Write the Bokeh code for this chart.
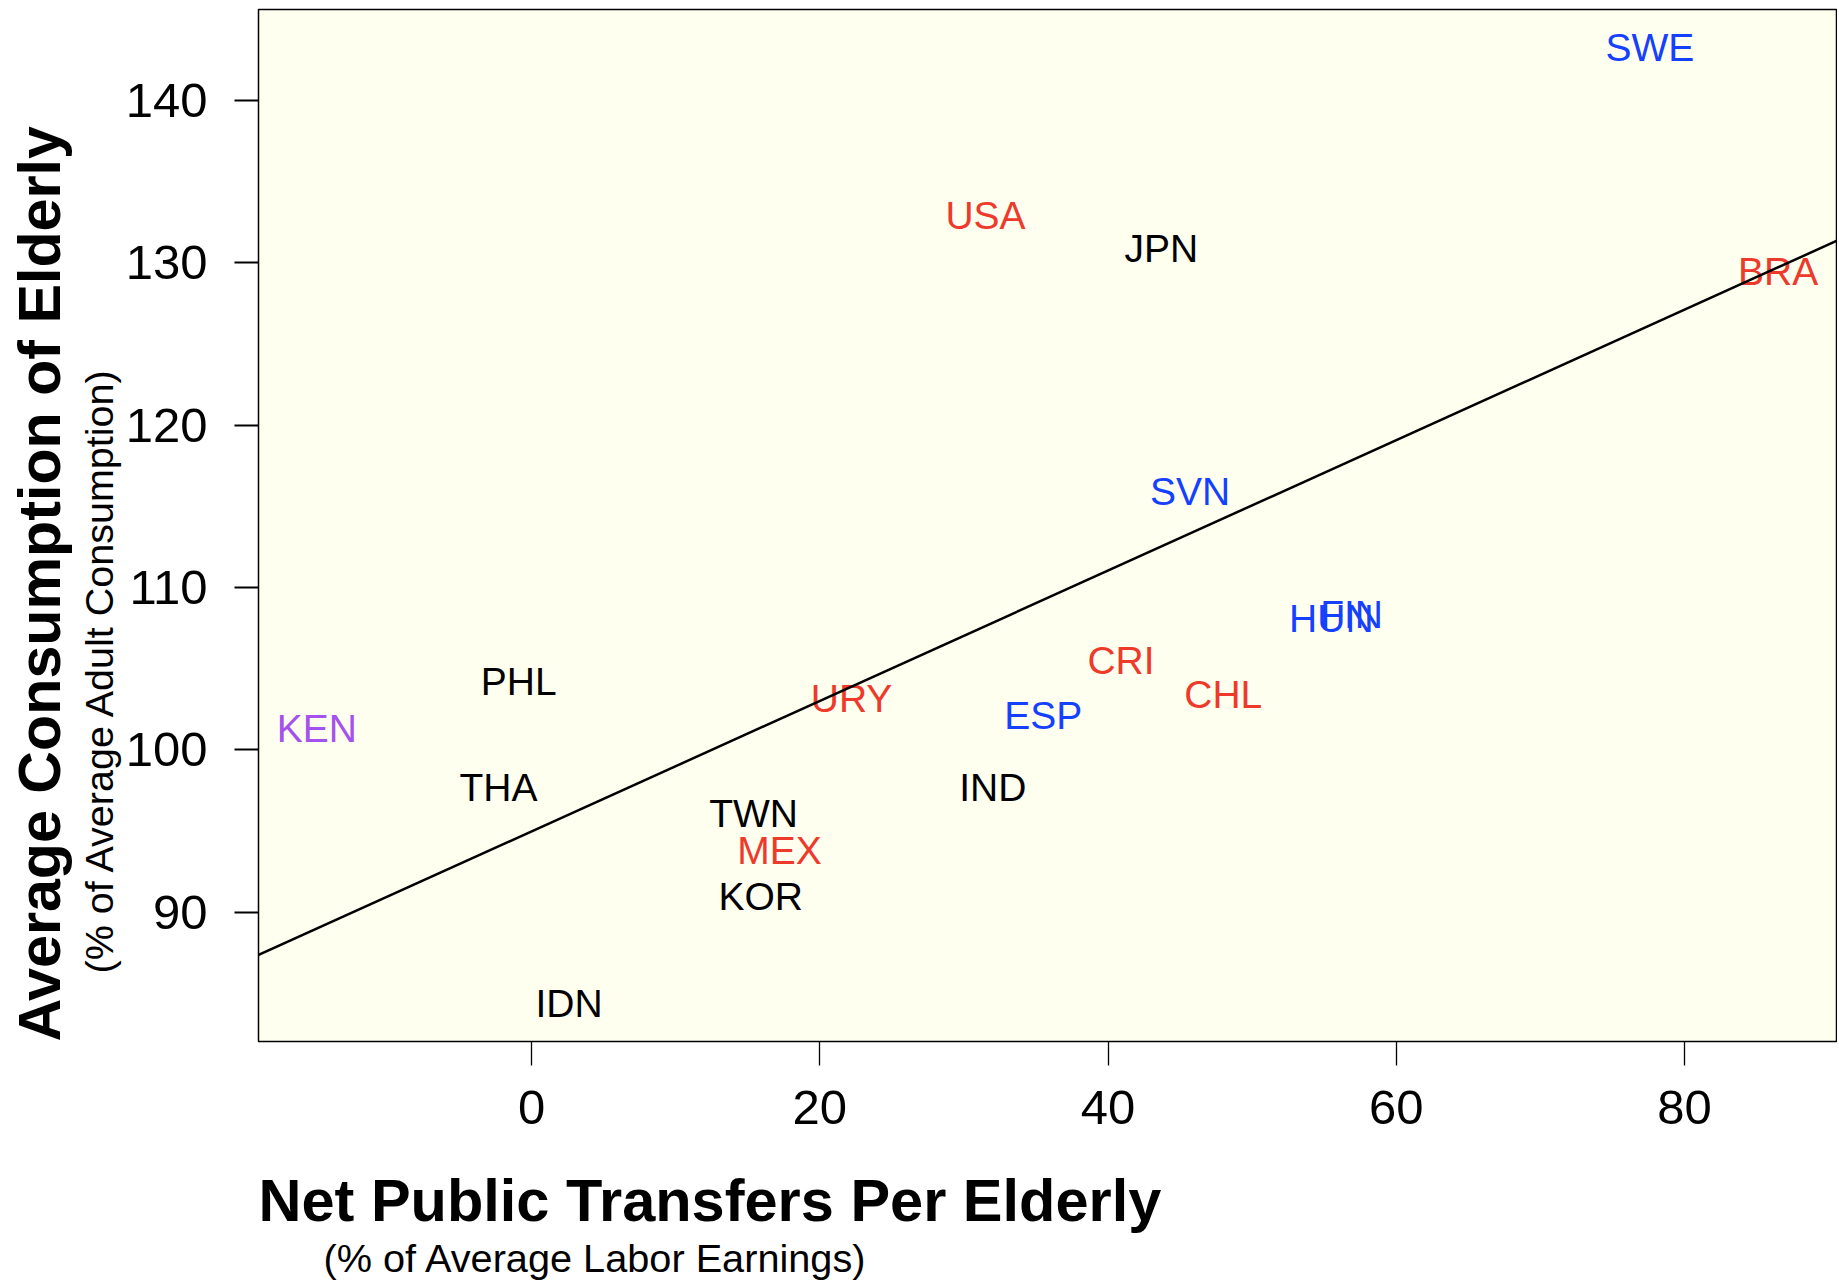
import numpy as np
from bokeh.plotting import figure
from bokeh.models import ColumnDataSource, Range1d, Slope, Title, FixedTicker
from bokeh.core.properties import value
from bokeh.embed import file_html
from bokeh.resources import INLINE

# ---- data ----
countries = ["SWE", "USA", "JPN", "BRA", "SVN", "HUN", "FIN", "CRI", "CHL", "ESP",
             "URY", "PHL", "KEN", "THA", "IND", "TWN", "MEX", "KOR", "IDN"]
transfers = [77.6, 31.5, 43.7, 86.5, 45.7, 55.5, 56.9, 40.9, 48.0, 35.5,
             22.2, -0.9, -14.9, -2.3, 32.0, 15.4, 17.2, 15.9, 2.6]
consumption = [143.25, 132.9, 130.9, 129.45, 115.9, 108.1, 108.35, 105.5, 103.4, 102.1,
               103.2, 104.2, 101.35, 97.7, 97.7, 96.1, 93.8, 91.0, 84.4]
groups = ["blue", "red", "black", "red", "blue", "blue", "blue", "red", "red", "blue",
          "red", "black", "purple", "black", "black", "black", "red", "black", "black"]
group_colors = {"black": "#000000", "red": "#EE3A2A", "blue": "#1540FF", "purple": "#A451EE"}
x_ticks = [0, 20, 40, 60, 80]
y_ticks = [90, 100, 110, 120, 130, 140]

x_title = "Net Public Transfers Per Elderly"
x_sub = "(% of Average Labor Earnings)"
y_title = "Average Consumption of Elderly"
y_sub = "(% of Average Adult Consumption)"

FONT = "Liberation Sans"

# ---- ranges like R defaults (4% padding) ----
xa, xb = min(transfers), max(transfers)
ya, yb = min(consumption), max(consumption)
xpad = 0.04 * (xb - xa)
ypad = 0.04 * (yb - ya)

p = figure(width=1837, height=1282, output_backend="svg", toolbar_location=None,
           x_range=Range1d(xa - xpad, xb + xpad), y_range=Range1d(ya - ypad, yb + ypad),
           min_border_left=258, min_border_right=1, min_border_top=9, min_border_bottom=241,
           background_fill_color="#FFFFF0", border_fill_color="white")
p.grid.visible = False
p.outline_line_color = "black"
p.outline_line_width = 1.5

# regression line (OLS fit of the points)
m, b = np.polyfit(np.array(transfers), np.array(consumption), 1)
p.add_layout(Slope(gradient=m, y_intercept=b, line_color="black", line_width=2.5))

src = ColumnDataSource(dict(x=transfers, y=consumption, name=countries,
                            color=[group_colors[g] for g in groups]))
p.text(x="x", y="y", text="name", source=src, text_color="color",
       text_font=value(FONT), text_font_size="39px",
       text_align="center", text_baseline="middle")

for ax, ticks, standoff in ((p.xaxis[0], x_ticks, 25), (p.yaxis[0], y_ticks, 27)):
    ax.ticker = FixedTicker(ticks=ticks)
    ax.axis_line_color = None
    ax.major_tick_out = 24
    ax.major_tick_in = 0
    ax.minor_tick_out = 0
    ax.minor_tick_in = 0
    ax.major_tick_line_color = "black"
    ax.major_label_standoff = standoff
    ax.major_label_text_font = FONT
    ax.major_label_text_font_size = "49px"
    ax.major_label_text_color = "black"
p.yaxis.major_tick_line_width = 2
p.xaxis.major_tick_line_width = 1.3

# titles (R mtext style, left-aligned to plot region)
p.add_layout(Title(text=y_sub, align="left", offset=68, text_font=FONT, text_color="black",
                   text_font_size="39.5px", text_font_style="normal", standoff=4), "left")
p.add_layout(Title(text=y_title, align="left", offset=0, text_font=FONT, text_color="black",
                   text_font_size="59.2px", text_font_style="bold", standoff=0), "left")
# invisible spacer between the tick labels and the x title
p.add_layout(Title(text=" ", text_font=FONT, text_font_size="32px", standoff=0), "below")
p.add_layout(Title(text=x_title, align="left", offset=0, text_font=FONT, text_color="black",
                   text_font_size="59.5px", text_font_style="bold", standoff=0), "below")
p.add_layout(Title(text=x_sub, align="left", offset=65, text_font=FONT, text_color="black",
                   text_font_size="39.7px", text_font_style="normal", standoff=0), "below")

open("out.html", "w").write(file_html(p, INLINE))
